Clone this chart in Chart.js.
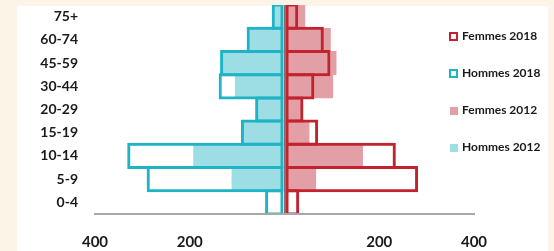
<!DOCTYPE html>
<html>
<head>
<meta charset="utf-8">
<script src="https://cdn.jsdelivr.net/npm/chart.js@4.4.0/dist/chart.umd.min.js"></script>
<style>
  html, body { margin: 0; padding: 0; }
  body { width: 554px; height: 251px; background: #fcf4e6; position: relative; overflow: hidden; font-family: Lato, "Open Sans", sans-serif; }
  #panel { position: absolute; left: 17px; top: 6px; width: 531px; height: 245px; background: #fff; }
  #chart { position: absolute; left: 0; top: 0; }
  .leg { position: absolute; left: 449px; height: 16px; line-height: 16px; font-size: 12px; font-weight: 700; color: #1a1a1a; white-space: nowrap; }
  .leg i { display: inline-block; box-sizing: border-box; width: 9px; height: 9px; margin-right: 4px; vertical-align: -1px; }
</style>
</head>
<body>
<div id="panel"></div>
<canvas id="chart" width="554" height="251"></canvas>
<div id="legend"></div>
<script>
// ===================== DATA =====================
const ageGroups = ['75+', '60-74', '45-59', '30-44', '20-29', '15-19', '10-14', '5-9', '0-4'];
const femmes2018 = [29, 83, 97, 63, 40, 71, 235, 282, 31];
const hommes2018 = [27, 80, 136, 139, 62, 92, 332, 291, 41];
const femmes2012 = [43, 97, 109, 102, 36, 52, 165, 66, 0];
const hommes2012 = [24, 76, 132, 104, 58, 88, 192, 111, 0];

const RED = '#c1232f';
const CYAN = '#1fb3c6';
const PINK = '#e2a0a6';
const LIGHT_CYAN = '#9ddee5';
const TEXT = '#1a1a1a';

// men are drawn on the left side
const neg = arr => arr.map(v => -v);

// ===================== CHART =====================
const datasets = [
  { label: 'Femmes 2018', data: femmes2018, backgroundColor: 'transparent', borderColor: RED, borderWidth: 3, borderSkipped: false, barPercentage: 1.13, order: 0 },
  { label: 'Hommes 2018', data: neg(hommes2018), backgroundColor: 'transparent', borderColor: CYAN, borderWidth: 3, borderSkipped: false, barPercentage: 1.13, order: 0 },
  { label: 'Femmes 2012', data: femmes2012, backgroundColor: PINK, borderWidth: 0, barPercentage: 1, order: 1 },
  { label: 'Hommes 2012', data: neg(hommes2012), backgroundColor: LIGHT_CYAN, borderWidth: 0, barPercentage: 1, order: 1 }
];

new Chart(document.getElementById('chart'), {
  type: 'bar',
  data: { labels: ageGroups, datasets: datasets },
  options: {
    indexAxis: 'y',
    responsive: false,
    animation: false,
    datasets: { bar: { grouped: false, categoryPercentage: 1 } },
    layout: { padding: { top: 5, right: 80, left: 0, bottom: 0 } },
    plugins: { legend: { display: false }, tooltip: { enabled: false } },
    scales: {
      x: {
        min: -400, max: 400,
        afterFit: s => { s.height = 37; },
        ticks: {
          stepSize: 200,
          callback: v => v === 0 ? '' : Math.abs(v),
          font: { family: 'Lato', size: 15, weight: 'bold' },
          color: TEXT,
          padding: 19,
          maxRotation: 0
        },
        grid: {
          color: c => c.tick && c.tick.value === 0 ? '#8b7073' : 'transparent',
          lineWidth: 2,
          drawTicks: false,
          z: 1
        },
        border: { color: '#a8a8a8', width: 2, z: 2 }
      },
      y: {
        afterFit: s => { s.width = 95; s.paddingTop = 0; s.paddingBottom = 0; },
        grid: { display: false, drawTicks: false },
        border: { display: false },
        ticks: {
          font: { family: 'Lato', size: 14, weight: 'bold' },
          color: TEXT,
          padding: 17
        }
      }
    }
  }
});

// ===================== LEGEND =====================
const legendItems = [
  { text: 'Femmes 2018', color: RED, hollow: true, top: 28 },
  { text: 'Hommes 2018', color: CYAN, hollow: true, top: 65 },
  { text: 'Femmes 2012', color: PINK, hollow: false, top: 102 },
  { text: 'Hommes 2012', color: LIGHT_CYAN, hollow: false, top: 139 }
];
document.getElementById('legend').innerHTML = legendItems.map(it => {
  const box = it.hollow
    ? `border:2.5px solid ${it.color};background:#fff`
    : `background:${it.color};width:8px;height:8px;margin-left:1px`;
  return `<div class="leg" style="top:${it.top}px"><i style="${box}"></i>${it.text}</div>`;
}).join('');
</script>
</body>
</html>
